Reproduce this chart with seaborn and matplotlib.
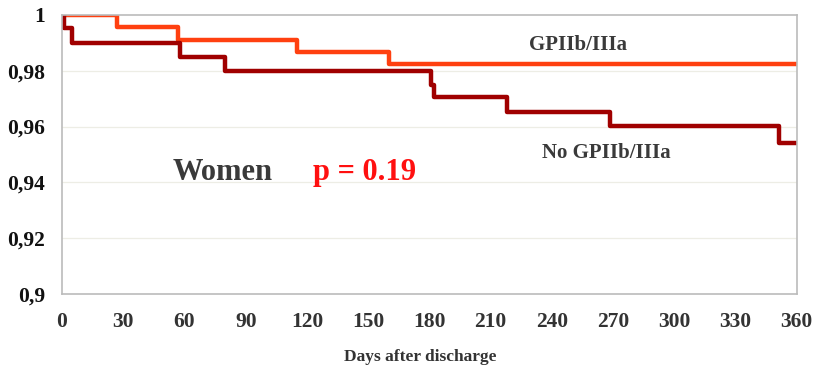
import matplotlib
matplotlib.use("Agg")
import matplotlib.pyplot as plt
import seaborn as sns
import pandas as pd

# Kaplan-Meier step data (days, survival)
gp_days = [0, 27, 57, 115, 160, 360]
gp_surv = [1.0, 0.9957, 0.991, 0.9867, 0.9824, 0.9824]
no_days = [0, 1, 5, 58, 80, 181, 182.5, 218, 268.5, 351.5, 360]
no_surv = [1.0, 0.9953, 0.990, 0.985, 0.980, 0.975, 0.9705, 0.9653, 0.9602, 0.9541, 0.9541]

x_ticks = [0, 30, 60, 90, 120, 150, 180, 210, 240, 270, 300, 330, 360]
y_ticks = [0.9, 0.92, 0.94, 0.96, 0.98, 1.0]
y_labels = ["0,9", "0,92", "0,94", "0,96", "0,98", "1"]

df = pd.concat([
    pd.DataFrame({"day": gp_days, "surv": gp_surv, "grp": "GPIIb/IIIa"}),
    pd.DataFrame({"day": no_days, "surv": no_surv, "grp": "No GPIIb/IIIa"}),
])

sns.set_theme(style="white")
plt.rcParams['font.family'] = ['Liberation Serif', 'DejaVu Serif']

fig = plt.figure(figsize=(8.13, 3.70), dpi=100)
ax = fig.add_axes([0.0763, 0.2054, 0.9037, 0.7541])

palette = {"GPIIb/IIIa": "#FF4010", "No GPIIb/IIIa": "#A00000"}
for g in ["GPIIb/IIIa", "No GPIIb/IIIa"]:
    sub = df[df.grp == g]
    sns.lineplot(data=sub, x="day", y="surv", ax=ax, color=palette[g],
                 drawstyle="steps-post", linewidth=3.2, legend=False,
                 estimator=None, sort=False)

ax.set_xlim(0, 360)
ax.set_ylim(0.9, 1.0)
ax.set_xticks(x_ticks)
ax.set_xticklabels([str(t) for t in x_ticks], fontsize=15.5, fontweight="bold", color="#333333")
ax.set_yticks(y_ticks)
ax.set_yticklabels(y_labels, fontsize=15.5, fontweight="bold", color="#111111")
ax.tick_params(axis="x", pad=13, length=0)
ax.tick_params(axis="y", pad=12, length=0)

for yv in [0.92, 0.94, 0.96, 0.98]:
    ax.axhline(yv, color="#EDEDE5", linewidth=0.9, zorder=0)

for s in ax.spines.values():
    s.set_color("#BBBBBB")
    s.set_linewidth(1.2)

ax.set_xlabel("Days after discharge", fontsize=12.5, fontweight="bold", color="#333333")
ax.xaxis.set_label_coords(0.487, -0.197)
ax.set_ylabel("")

ax.text(229, 0.9892, "GPIIb/IIIa", fontsize=15, fontweight="bold", color="#3a3a3a", ha="left", va="center")
ax.text(235, 0.9505, "No GPIIb/IIIa", fontsize=15, fontweight="bold", color="#3a3a3a", ha="left", va="center")
ax.text(54, 0.9437, "Women", fontsize=22, fontweight="bold", color="#3a3a3a", ha="left", va="center")
ax.text(123, 0.9437, "p = 0.19", fontsize=22, fontweight="bold", color="#FF1010", ha="left", va="center")

fig.savefig("out.png", dpi=100)
